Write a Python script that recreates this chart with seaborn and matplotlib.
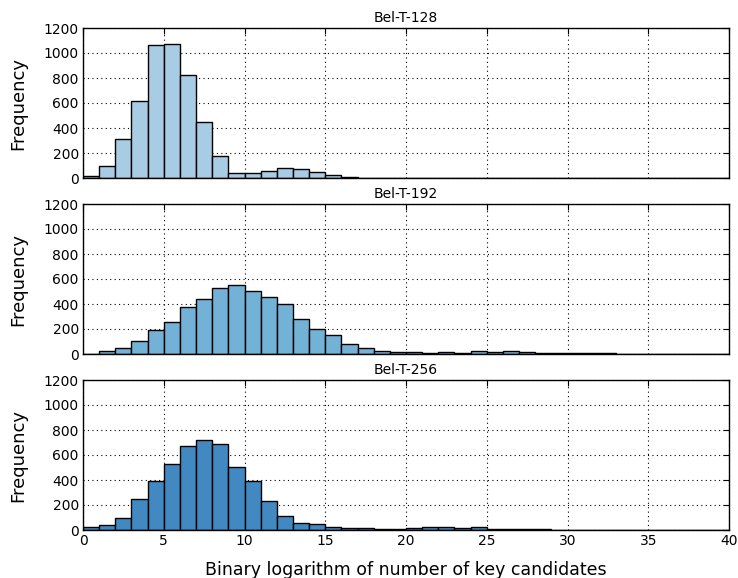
import numpy as np
import pandas as pd
import matplotlib
matplotlib.use("Agg")
import matplotlib.pyplot as plt
import seaborn as sns

bin_edges = list(range(0, 41))
titles = ["Bel-T-128", "Bel-T-192", "Bel-T-256"]

counts_128 = [20, 98, 314, 618, 1064, 1069, 824, 448, 178, 37, 42, 58, 80, 70, 48, 26, 5, 2]
counts_192 = [3, 22, 52, 108, 190, 260, 375, 441, 530, 551, 506, 458, 402, 282, 204, 149, 82, 50,
              27, 13, 16, 10, 13, 10, 24, 16, 27, 16, 8, 8, 6, 10, 5, 4, 3, 2]
counts_256 = [27, 40, 96, 251, 390, 528, 670, 723, 691, 507, 395, 232, 115, 54, 46, 22, 17, 17,
              11, 11, 13, 27, 22, 13, 22, 5, 10, 8, 5]

colors = ["#a8cce4", "#74b1d7", "#4289c1"]
series = [counts_128, counts_192, counts_256]

sns.set_style("white")
plt.rcParams.update({
    "font.family": ["DejaVu Sans"],
    "xtick.direction": "in",
    "ytick.direction": "in",
    "xtick.top": True,
    "ytick.right": True,
    "xtick.major.size": 4,
    "ytick.major.size": 4,
    "axes.edgecolor": "black",
    "axes.linewidth": 1.0,
    "text.color": "black",
    "axes.labelcolor": "black",
    "axes.titlecolor": "black",
})

fig = plt.figure(figsize=(7.38, 5.78), dpi=100)
L, R = 83 / 738, 729 / 738
tops = [28, 204, 380]
h = 150
axes = []
for i in range(3):
    ax = fig.add_axes([L, 1 - (tops[i] + h) / 578, R - L, h / 578])
    axes.append(ax)

for i, ax in enumerate(axes):
    c = series[i]
    df = pd.DataFrame({"x": [b + 0.5 for b in bin_edges[:len(c)]], "w": c})
    sns.histplot(data=df, x="x", weights="w", bins=bin_edges, ax=ax,
                 color=colors[i], edgecolor="black", linewidth=1.0, alpha=1.0)
    ax.set_xlim(0, 40)
    ax.set_ylim(0, 1200)
    ax.set_yticks(range(0, 1201, 200))
    ax.set_xticks(range(0, 41, 5))
    ax.grid(True, linestyle=(0, (1, 3)), color="black", linewidth=0.8)
    ax.set_axisbelow(True)
    ax.set_title(titles[i], fontsize=10, pad=4, color="black")
    ax.set_ylabel("Frequency", fontsize=13, labelpad=12, color="black")
    ax.tick_params(labelsize=10, colors="black", pad=3)
    for s in ax.spines.values():
        s.set_visible(True)
        s.set_color("black")
    if i < 2:
        ax.set_xticklabels([])
        ax.set_xlabel("")
    else:
        ax.set_xlabel("Binary logarithm of number of key candidates", fontsize=12.5,
                      labelpad=9, color="black")

fig.savefig("out.png", dpi=100)
